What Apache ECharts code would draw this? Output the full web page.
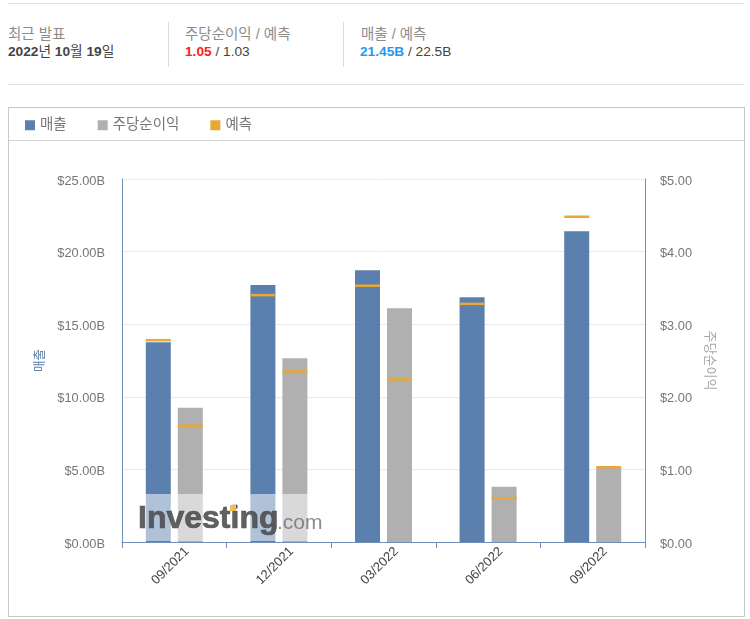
<!DOCTYPE html>
<html>
<head>
    <meta charset="UTF-8">
    <title>매출 / 주당순이익</title>
    <style>
        html, body {
            margin: 0;
            padding: 0;
            width: 100%;
            height: 100%;
            overflow: hidden;
            background: #fff;
            font-family: "Liberation Sans", "Noto Sans CJK KR", sans-serif;
        }
        #main { position: absolute; left: 0; top: 0; width: 750px; height: 619px; }
        .rule { position: absolute; left: 8px; width: 736px; height: 1px; background: #e0e0e0; }
        .sep { position: absolute; top: 22px; width: 1px; height: 45px; background: #dcdcdc; }
        .box { position: absolute; left: 8px; top: 107px; width: 735px; height: 508px; border: 1px solid #c8c8c8; }
        .boxline { position: absolute; left: 9px; top: 140px; width: 735px; height: 1px; background: #d4d4d4; }
        .lab { position: absolute; top: 26px; font-size: 14.5px; line-height: 16px; color: #8c8c8c; white-space: nowrap; }
        .val { position: absolute; top: 44px; font-size: 13.7px; line-height: 16px; color: #444; white-space: nowrap; }
        .val b.red { color: #ff2020; }
        .val b.blue { color: #1e9bf0; }
    </style>
    <script src="https://cdn.jsdelivr.net/npm/echarts@6/dist/echarts.min.js"></script>
</head>
<body>
    <div class="rule" style="top:3px"></div>
    <div class="rule" style="top:84px"></div>
    <div class="sep" style="left:168px"></div>
    <div class="sep" style="left:343px"></div>
    <div class="lab" style="left:8px">최근 발표</div>
    <div class="val" style="left:8px"><b>2022</b>년 <b>10</b>월 <b>19</b>일</div>
    <div class="lab" style="left:185px">주당순이익 / 예측</div>
    <div class="val" style="left:185px"><b class="red">1.05</b> / 1.03</div>
    <div class="lab" style="left:361px">매출 / 예측</div>
    <div class="val" style="left:360px"><b class="blue">21.45B</b> / 22.5B</div>
    <div class="box"></div>
    <div class="boxline"></div>
    <div id="main"></div>

    <script>
        const quarters = ['09/2021', '12/2021', '03/2022', '06/2022', '09/2022'];
        const revenue = [13.75, 17.7, 18.72, 16.85, 21.4];
        const eps = [1.85, 2.53, 3.22, 0.76, 1.02];
        const revenueForecast = [13.9, 17.0, 17.65, 16.4, 22.4];
        const epsForecast = [1.6, 2.35, 2.24, 0.6, 1.03];

        const BLUE = '#5b80ad';
        const GRAY = '#b0b0b0';
        const ORANGE = '#eaa733';
        const AXIS = '#6f8fb8';
        const FONT = '"Liberation Sans", "Noto Sans CJK KR", sans-serif';

        const chart = echarts.init(document.getElementById('main'));

        function forecastSeries(data, axisIndex, offset) {
            return {
                name: '예측',
                type: 'scatter',
                yAxisIndex: axisIndex,
                data: data,
                symbol: 'rect',
                symbolSize: [25, 2.5],
                symbolOffset: [offset, 0],
                itemStyle: { color: ORANGE, opacity: 1 },
                z: 5
            };
        }

        chart.setOption({
            animation: false,
            textStyle: { fontFamily: FONT },
            legend: {
                left: 20,
                top: 113,
                itemWidth: 10,
                itemHeight: 10,
                itemGap: 31,
                icon: 'rect',
                textStyle: { fontSize: 14.5, color: '#777', fontFamily: FONT },
                data: ['매출', '주당순이익', { name: '예측', itemStyle: { opacity: 1 } }]
            },
            grid: { left: 122, right: 105, top: 179, height: 363 },
            xAxis: {
                type: 'category',
                data: quarters,
                axisLine: { lineStyle: { color: AXIS, width: 1 } },
                axisTick: { show: true, alignWithLabel: false, length: 6, lineStyle: { color: AXIS } },
                axisLabel: {
                    rotate: 45,
                    align: 'center',
                    verticalAlign: 'middle',
                    padding: [0, 11, 0, 0],
                    fontSize: 13,
                    color: '#444',
                    margin: 20,
                    fontFamily: FONT
                }
            },
            yAxis: [
                {
                    type: 'value',
                    min: 0,
                    max: 25,
                    interval: 5,
                    name: '매출',
                    nameLocation: 'middle',
                    nameGap: 71,
                    nameRotate: 90,
                    nameTextStyle: { color: BLUE, fontSize: 12.5, fontFamily: FONT },
                    axisLine: { show: true, lineStyle: { color: AXIS } },
                    axisTick: { show: false },
                    axisLabel: {
                        fontSize: 12.8,
                        color: '#777',
                        margin: 17,
                        verticalAlign: 'top',
                        lineHeight: 4,
                        fontFamily: FONT,
                        formatter: v => '$' + v.toFixed(2) + 'B'
                    },
                    splitLine: { lineStyle: { color: '#e8e9f1' } }
                },
                {
                    type: 'value',
                    min: 0,
                    max: 5,
                    interval: 1,
                    name: '주당순이익',
                    nameLocation: 'middle',
                    nameGap: 57,
                    nameRotate: -90,
                    nameTextStyle: { color: '#a5a5a5', fontSize: 13, fontFamily: FONT },
                    axisLine: { show: true, lineStyle: { color: AXIS } },
                    axisTick: { show: false },
                    axisLabel: {
                        fontSize: 12.8,
                        color: '#777',
                        margin: 15,
                        verticalAlign: 'top',
                        lineHeight: 4,
                        fontFamily: FONT,
                        formatter: v => '$' + v.toFixed(2)
                    },
                    splitLine: { show: false }
                }
            ],
            series: [
                {
                    name: '매출',
                    type: 'bar',
                    yAxisIndex: 0,
                    data: revenue,
                    barWidth: 25,
                    barGap: '28%',
                    itemStyle: { color: BLUE }
                },
                {
                    name: '주당순이익',
                    type: 'bar',
                    yAxisIndex: 1,
                    data: eps,
                    barWidth: 25,
                    itemStyle: { color: GRAY }
                },
                forecastSeries(revenueForecast, 0, -16),
                forecastSeries(epsForecast, 1, 16)
            ],
            graphic: [
                // watermark: pale block over the bars plus the logo text
                {
                    type: 'rect',
                    z: 50,
                    shape: { x: 138, y: 494, width: 184, height: 47 },
                    style: { fill: 'rgba(255,255,255,0.52)' }
                },
                {
                    type: 'text',
                    z: 51,
                    x: 138,
                    y: 503,
                    style: {
                        text: 'Investing',
                        fill: 'rgba(75,75,78,0.88)',
                        stroke: 'rgba(75,75,78,0.88)',
                        lineWidth: 0.7,
                        font: 'bold 32px "Liberation Sans"'
                    }
                },
                {
                    type: 'text',
                    z: 51,
                    x: 277,
                    y: 513,
                    style: {
                        text: '.com',
                        fill: 'rgba(110,110,115,0.8)',
                        font: '21px "Liberation Sans"'
                    }
                },
                {
                    type: 'rect',
                    z: 52,
                    shape: { x: 230, y: 505, width: 6, height: 6 },
                    style: { fill: '#f6bb4e' }
                }
            ]
        });
    </script>
</body>
</html>
